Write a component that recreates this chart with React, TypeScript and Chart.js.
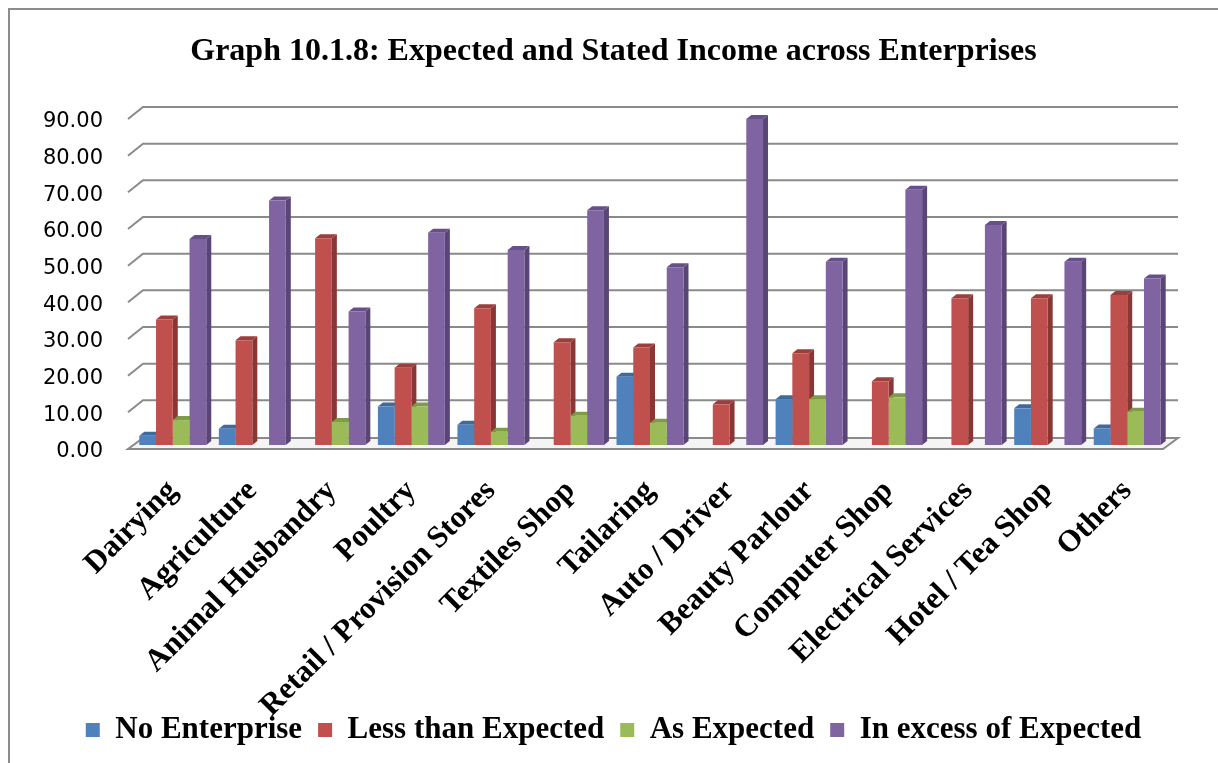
import React, { useEffect, useRef } from 'react';
import { Chart, registerables } from 'chart.js';

Chart.register(...registerables);

const categories = [
  'Dairying',
  'Agriculture',
  'Animal Husbandry',
  'Poultry',
  'Retail / Provision Stores',
  'Textiles Shop',
  'Tailaring',
  'Auto / Driver',
  'Beauty Parlour',
  'Computer Shop',
  'Electrical Services',
  'Hotel / Tea Shop',
  'Others',
];

const seriesNames = ['No Enterprise', 'Less than Expected', 'As Expected', 'In excess of Expected'];

const noEnterprise = [2.5, 4.4, 0, 10.5, 5.5, 0, 18.6, 0, 12.5, 0, 0, 10, 4.5];
const lessThanExpected = [34.2, 28.6, 56.4, 21.1, 37.3, 28, 26.6, 11.1, 25, 17.4, 40, 40, 40.9];
const asExpected = [6.8, 0, 6.3, 10.5, 3.6, 8, 6.1, 0, 12.5, 13, 0, 0, 9.1];
const inExcessOfExpected = [56.2, 66.7, 36.4, 57.9, 53.2, 64, 48.5, 88.9, 50, 69.6, 60, 50, 45.4];

const yMin = 0;
const yMax = 90;
const yStep = 10;

const FRONT = ['#4F81BD', '#C0504D', '#9BBB59', '#8064A2'];
const SIDE = ['#395E8C', '#8A3634', '#718B3E', '#5A4676'];
const TOP = ['#3F6A9E', '#9A3F3C', '#7F9B47', '#66508A'];

const SERIF = '"Times New Roman", "Liberation Serif", serif';
const DX = 5;
const DY = 4;

const noLabelClip = (s: any) => {
  s._computeLabelArea = () => undefined;
};

const frame3d = {
  id: 'frame3d',
  beforeDraw(chart: any) {
    const { ctx } = chart;
    ctx.save();
    ctx.fillStyle = '#ffffff';
    ctx.fillRect(0, 0, chart.width, chart.height);
    ctx.strokeStyle = '#8c8c8c';
    ctx.lineWidth = 2;
    ctx.beginPath();
    ctx.moveTo(9, chart.height + 5);
    ctx.lineTo(9, 9);
    ctx.lineTo(chart.width + 5, 9);
    ctx.stroke();
    ctx.restore();
  },
  beforeDatasetsDraw(chart: any) {
    const { ctx, chartArea } = chart;
    const { left, right } = chartArea;
    const y = chart.scales.y;
    ctx.save();
    // floor
    const y0 = y.getPixelForValue(0);
    ctx.beginPath();
    ctx.moveTo(left - 5, y0 + 4);
    ctx.lineTo(right - 4, y0 + 4);
    ctx.lineTo(right + 11, y0 - 7);
    ctx.lineTo(left + 10, y0 - 7);
    ctx.closePath();
    ctx.fillStyle = '#f4f4f4';
    ctx.fill();
    ctx.strokeStyle = '#8a8a8a';
    ctx.lineWidth = 2;
    ctx.stroke();
    // back wall gridlines
    y.ticks.forEach((t: any) => {
      if (t.value === 0) return;
      const py = y.getPixelForValue(t.value);
      ctx.beginPath();
      ctx.moveTo(left - 5, py + 4);
      ctx.lineTo(left + 10, py - 8);
      ctx.lineTo(right + 11, py - 8);
      ctx.stroke();
    });
    // side & top faces of bars (fronts drawn by Chart.js afterwards)
    const n = chart.data.labels.length;
    for (let i = 0; i < n; i++) {
      chart.data.datasets.forEach((ds: any, di: number) => {
        const v = ds.data[i];
        if (!v) return;
        const bar = chart.getDatasetMeta(di).data[i];
        const p = bar.getProps(['x', 'y', 'base', 'width'], true);
        const xl = p.x - p.width / 2;
        const xr = p.x + p.width / 2;
        ctx.fillStyle = SIDE[di];
        ctx.beginPath();
        ctx.moveTo(xr, p.y);
        ctx.lineTo(xr + DX, p.y - DY);
        ctx.lineTo(xr + DX, p.base - DY);
        ctx.lineTo(xr, p.base);
        ctx.closePath();
        ctx.fill();
        ctx.fillStyle = TOP[di];
        ctx.beginPath();
        ctx.moveTo(xl, p.y);
        ctx.lineTo(xl + DX, p.y - DY);
        ctx.lineTo(xr + DX, p.y - DY);
        ctx.lineTo(xr, p.y);
        ctx.closePath();
        ctx.fill();
      });
    }
    ctx.restore();
  },
};

export default function App() {
  const ref = useRef<HTMLCanvasElement>(null);

  useEffect(() => {
    const seriesValues = [noEnterprise, lessThanExpected, asExpected, inExcessOfExpected];
    const chart = new Chart(ref.current as HTMLCanvasElement, {
      type: 'bar',
      data: {
        labels: categories,
        datasets: seriesNames.map((name, i) => ({
          label: name,
          data: seriesValues[i],
          backgroundColor: FRONT[i],
          borderWidth: 0,
          categoryPercentage: 0.842,
          barPercentage: 1,
        })),
      },
      options: {
        responsive: false,
        animation: false,
        devicePixelRatio: 1,
        layout: { padding: { left: 60, right: 51, top: 0, bottom: 16.5 } },
        plugins: {
          tooltip: { enabled: false },
          title: {
            display: true,
            text: 'Graph 10.1.8: Expected and Stated Income across Enterprises',
            color: '#000',
            font: { family: SERIF, size: 32, weight: 'bold' },
            padding: { top: 33, bottom: 43.6 },
          },
          legend: {
            position: 'bottom',
            labels: {
              boxWidth: 14,
              boxHeight: 14,
              padding: 16,
              color: '#000',
              font: { family: SERIF, size: 31, weight: 'bold' },
            },
          },
        },
        scales: {
          x: {
            grid: { display: false, drawTicks: false },
            border: { display: false },
            ticks: {
              autoSkip: false,
              maxRotation: 45,
              minRotation: 45,
              padding: 28,
              color: '#000',
              font: { family: SERIF, size: 31, weight: 'bold' },
            },
            afterFit: (s: any) => {
              s.height = 253.5;
              noLabelClip(s);
            },
          },
          y: {
            min: yMin,
            max: yMax,
            grid: { display: false, drawTicks: false },
            border: { display: false },
            ticks: {
              stepSize: yStep,
              padding: 30,
              labelOffset: 7,
              color: '#000',
              font: { family: '"DejaVu Sans", sans-serif', size: 21 },
              callback: (v: any) => Number(v).toFixed(2),
            },
            afterFit: (s: any) => {
              s.width = 73;
              noLabelClip(s);
            },
          },
        },
      },
      plugins: [frame3d],
    });
    return () => chart.destroy();
  }, []);

  return (
    <div
      style={{
        position: 'absolute',
        left: 0,
        top: 0,
        width: 1218,
        height: 763,
        overflow: 'hidden',
        background: '#fff',
      }}
    >
      <canvas ref={ref} width={1218} height={772} style={{ display: 'block', width: 1218, height: 772 }} />
    </div>
  );
}
